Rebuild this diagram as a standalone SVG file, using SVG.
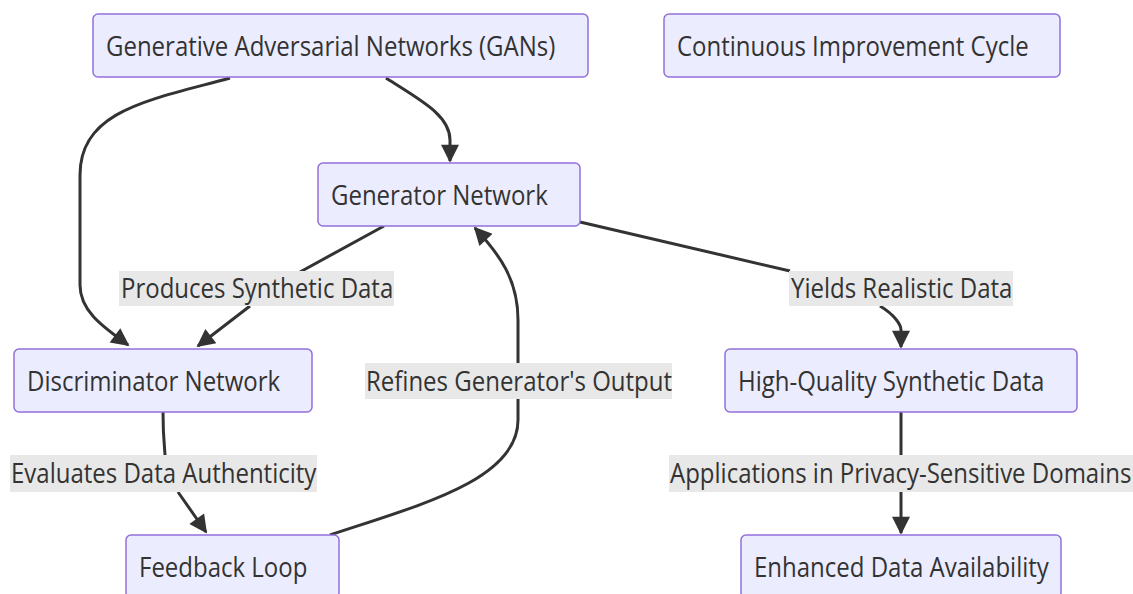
<svg xmlns="http://www.w3.org/2000/svg" width="1133" height="594" viewBox="0 0 1133 594">
<style>
.node rect{fill:#ECECFF;stroke:#9370DB;stroke-width:1.5}
text{font-family:"Open Sans","Noto Sans",sans-serif;font-size:27px;fill:#333}
.edge{fill:none;stroke:#333;stroke-width:3}
.lbl{fill:#e8e8e8}
</style>
<defs>
<marker id="ah" viewBox="0 0 10 10" refX="9" refY="5" markerWidth="6.5" markerHeight="6" markerUnits="strokeWidth" orient="auto">
<path d="M0,0 L10,5 L0,10 z" fill="#333"/>
</marker>
</defs>
<rect width="1133" height="594" fill="#fff"/>
<g id="connectors">
<path class="edge" d="M230,78 C150,100 80,110 80,175 L80,285 C80,312 105,328 128,345" marker-end="url(#ah)"/>
<path class="edge" d="M386,78 C420,100 450,115 450,140 L450,161" marker-end="url(#ah)"/>
<path class="edge" d="M384,226 L300,272 M250,306 L198,346" marker-end="url(#ah)"/>
<path class="edge" d="M163,412 C163,440 165,450 165,455 M178,492 L206,532" marker-end="url(#ah)"/>
<path class="edge" d="M330,535 C420,505 518,480 518,420 L518,320 C518,280 500,255 475,228" marker-end="url(#ah)"/>
<path class="edge" d="M580,222 L790,271 M880,306 C895,315 901,325 901,330 L901,347" marker-end="url(#ah)"/>
<path class="edge" d="M901,412 L901,455 M901,492 L901,533" marker-end="url(#ah)"/>
</g>
<g id="edge-labels">
<rect class="lbl" x="119" y="271" width="275" height="35"/>
<text transform="translate(121,298) scale(0.889,1)">Produces Synthetic Data</text>
<rect class="lbl" x="789" y="271" width="224" height="35"/>
<text transform="translate(791,298) scale(0.889,1)">Yields Realistic Data</text>
<rect class="lbl" x="365" y="363" width="307" height="36"/>
<text transform="translate(366,391) scale(0.889,1)">Refines Generator's Output</text>
<rect class="lbl" x="10" y="455" width="307" height="37"/>
<text transform="translate(11,483) scale(0.889,1)">Evaluates Data Authenticity</text>
<rect class="lbl" x="669" y="455" width="464" height="37"/>
<text transform="translate(670,483) scale(0.889,1)">Applications in Privacy-Sensitive Domains</text>
</g>
<g id="gans" class="node"><rect x="93" y="14" width="495" height="63" rx="5"/><text transform="translate(106,56) scale(0.889,1)">Generative Adversarial Networks (GANs)</text></g>
<g id="cycle" class="node"><rect x="664" y="14" width="396" height="63" rx="5"/><text transform="translate(677,56) scale(0.889,1)">Continuous Improvement Cycle</text></g>
<g id="generator" class="node"><rect x="318" y="163" width="262" height="63" rx="5"/><text transform="translate(331,205) scale(0.889,1)">Generator Network</text></g>
<g id="discriminator" class="node"><rect x="14" y="349" width="298" height="63" rx="5"/><text transform="translate(27,391) scale(0.889,1)">Discriminator Network</text></g>
<g id="hq" class="node"><rect x="725" y="349" width="352" height="63" rx="5"/><text transform="translate(738,391) scale(0.889,1)">High-Quality Synthetic Data</text></g>
<g id="feedback" class="node"><rect x="126" y="535" width="213" height="63" rx="5"/><text transform="translate(139,577) scale(0.889,1)">Feedback Loop</text></g>
<g id="enhanced" class="node"><rect x="741" y="535" width="320" height="63" rx="5"/><text transform="translate(754,577) scale(0.889,1)">Enhanced Data Availability</text></g>
</svg>
